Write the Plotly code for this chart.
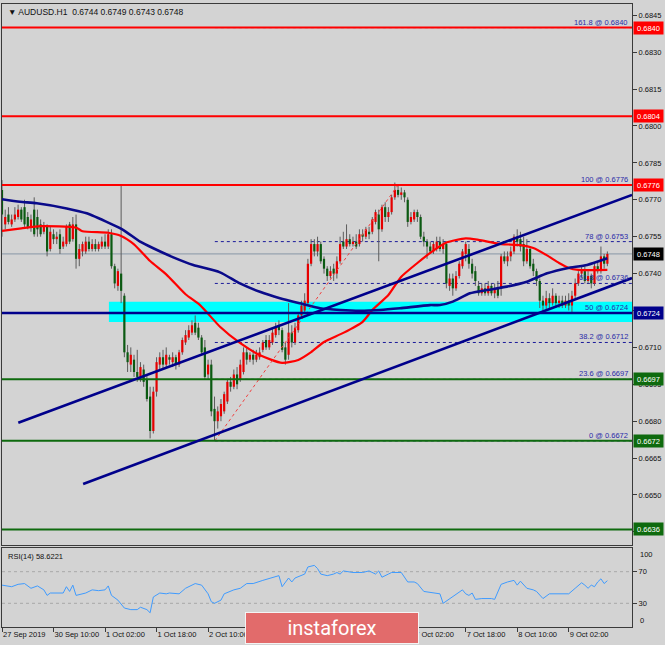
import plotly.graph_objects as go

# ---------------- data ----------------
opens = [
    .6774, .6760, .6764, .6760, .6762, .6763, .6766, .6767, .6763, .6759,
    .6766, .6763, .6760, .6757, .6759, .6750, .6756, .6754, .6756, .6751,
    .6752, .6760, .6754, .6760, .6746, .6749, .6749, .6753, .6750, .6752,
    .6750, .6751, .6753, .6751, .6756, .6743, .6735, .6740, .6731, .6708,
    .6703, .6705, .6700, .6698, .6701, .6697, .6690, .6676, .6692, .6703,
    .6706, .6703, .6706, .6704, .6706, .6703, .6708, .6712, .6714, .6716,
    .6720, .6718, .6714, .6710, .6699, .6703, .6685, .6680, .6682, .6684,
    .6688, .6696, .6694, .6699, .6697, .6700, .6708, .6705, .6707, .6705,
    .6706, .6709, .6713, .6710, .6712, .6715, .6719, .6717, .6710, .6707,
    .6716, .6712, .6717, .6723, .6725, .6728, .6744, .6752, .6749, .6752,
    .6746, .6742, .6739, .6742, .6740, .6745, .6753, .6751, .6754, .6752,
    .6753, .6752, .6756, .6755, .6757, .6757, .6761, .6764, .6758, .6767,
    .6763, .6765, .6771, .6774, .6772, .6773, .6770, .6761, .6762, .6765,
    .6763, .6755, .6753, .6751, .6749, .6750, .6753, .6750, .6752, .6735,
    .6738, .6734, .6739, .6743, .6748, .6750, .6744, .6741, .6735, .6732,
    .6734, .6732, .6735, .6732, .6734, .6734, .6747, .6745, .6747, .6749,
    .6755, .6754, .6752, .6745, .6750, .6744, .6741, .6737, .6729, .6727,
    .6730, .6728, .6731, .6728, .6729, .6727, .6729, .6727, .6731, .6736,
    .6740, .6741, .6737, .6739, .6736, .6743, .6741, .6747, .6744,
]
highs = [
    .6778, .6766, .6767, .6764, .6767, .6768, .6767, .6770, .6765, .6764,
    .6771, .6766, .6762, .6761, .6760, .6759, .6758, .6757, .6758, .6755,
    .6760, .6761, .6763, .6764, .6752, .6753, .6755, .6755, .6754, .6754,
    .6753, .6755, .6756, .6758, .6758, .6744, .6742, .6776, .6732, .6711,
    .6710, .6707, .6709, .6704, .6703, .6699, .6694, .6694, .6706, .6708,
    .6709, .6710, .6707, .6708, .6707, .6709, .6714, .6717, .6719, .6721,
    .6723, .6720, .6715, .6713, .6705, .6705, .6690, .6686, .6689, .6692,
    .6697, .6698, .6701, .6702, .6705, .6710, .6710, .6708, .6709, .6709,
    .6710, .6713, .6715, .6715, .6718, .6720, .6721, .6718, .6712, .6728,
    .6719, .6720, .6724, .6729, .6732, .6746, .6754, .6754, .6755, .6753,
    .6747, .6743, .6743, .6744, .6747, .6755, .6757, .6760, .6756, .6755,
    .6756, .6758, .6758, .6759, .6759, .6763, .6766, .6766, .6768, .6769,
    .6767, .6772, .6777, .6776, .6775, .6774, .6771, .6765, .6766, .6766,
    .6764, .6757, .6754, .6753, .6753, .6755, .6755, .6754, .6753, .6740,
    .6740, .6741, .6745, .6750, .6753, .6752, .6746, .6743, .6737, .6736,
    .6736, .6737, .6736, .6736, .6737, .6748, .6749, .6749, .6751, .6756,
    .6758, .6757, .6755, .6754, .6751, .6746, .6742, .6738, .6731, .6733,
    .6732, .6734, .6732, .6731, .6731, .6731, .6732, .6733, .6738, .6741,
    .6743, .6743, .6741, .6740, .6744, .6745, .6751, .6748, .6749,
]
lows = [
    .6755, .6758, .6760, .6759, .6761, .6762, .6761, .6759, .6758, .6757,
    .6755, .6755, .6755, .6756, .6747, .6749, .6752, .6752, .6748, .6750,
    .6751, .6752, .6753, .6742, .6743, .6747, .6748, .6749, .6749, .6749,
    .6749, .6750, .6750, .6750, .6742, .6734, .6733, .6728, .6706, .6700,
    .6700, .6698, .6696, .6696, .6694, .6688, .6673, .6675, .6690, .6701,
    .6701, .6702, .6703, .6702, .6701, .6702, .6707, .6711, .6713, .6715,
    .6715, .6713, .6707, .6697, .6697, .6682, .6672, .6677, .6680, .6683,
    .6687, .6692, .6693, .6693, .6696, .6699, .6703, .6704, .6703, .6704,
    .6705, .6708, .6709, .6709, .6711, .6714, .6715, .6708, .6703, .6705,
    .6710, .6711, .6716, .6722, .6724, .6727, .6743, .6747, .6747, .6744,
    .6740, .6737, .6738, .6737, .6738, .6744, .6750, .6750, .6751, .6751,
    .6750, .6751, .6753, .6754, .6754, .6756, .6760, .6745, .6757, .6761,
    .6761, .6764, .6770, .6771, .6770, .6769, .6759, .6760, .6761, .6761,
    .6754, .6751, .6746, .6748, .6748, .6749, .6749, .6748, .6734, .6733,
    .6731, .6733, .6738, .6742, .6745, .6742, .6738, .6735, .6731, .6731,
    .6731, .6731, .6731, .6730, .6730, .6731, .6744, .6743, .6745, .6748,
    .6751, .6749, .6743, .6744, .6742, .6739, .6735, .6726, .6724, .6725,
    .6726, .6727, .6726, .6726, .6726, .6726, .6725, .6724, .6730, .6735,
    .6738, .6736, .6736, .6734, .6735, .6740, .6740, .6742, .6743,
]
closes = [
    .6764, .6763, .6761, .6762, .6764, .6766, .6762, .6760, .6759, .6762,
    .6756, .6758, .6756, .6759, .6749, .6757, .6754, .6755, .6750, .6753,
    .6759, .6753, .6760, .6746, .6750, .6752, .6753, .6750, .6752, .6750,
    .6752, .6753, .6751, .6756, .6743, .6736, .6741, .6733, .6708, .6704,
    .6707, .6700, .6698, .6702, .6696, .6689, .6676, .6692, .6704, .6706,
    .6703, .6707, .6705, .6706, .6703, .6708, .6713, .6715, .6717, .6719,
    .6716, .6714, .6708, .6698, .6703, .6684, .6680, .6684, .6687, .6691,
    .6696, .6694, .6699, .6695, .6703, .6708, .6705, .6707, .6705, .6707,
    .6708, .6712, .6710, .6713, .6716, .6718, .6717, .6709, .6705, .6716,
    .6712, .6718, .6723, .6727, .6729, .6744, .6752, .6749, .6752, .6745,
    .6742, .6739, .6741, .6740, .6745, .6752, .6751, .6754, .6752, .6753,
    .6751, .6756, .6755, .6758, .6756, .6762, .6765, .6758, .6767, .6763,
    .6765, .6771, .6774, .6772, .6773, .6771, .6761, .6763, .6765, .6763,
    .6755, .6753, .6751, .6749, .6752, .6753, .6750, .6752, .6736, .6738,
    .6734, .6739, .6744, .6749, .6752, .6744, .6740, .6737, .6732, .6734,
    .6732, .6735, .6732, .6734, .6731, .6747, .6745, .6747, .6749, .6755,
    .6753, .6751, .6745, .6750, .6743, .6741, .6737, .6729, .6727, .6730,
    .6728, .6731, .6728, .6729, .6727, .6729, .6727, .6731, .6736, .6740,
    .6741, .6737, .6739, .6736, .6743, .6741, .6747, .6744, .6748,
]

tick_bars = [0, 16, 32, 48, 64, 80, 96, 112, 128, 144, 160, 176]
tick_labels = ["27 Sep 2019", "30 Sep 10:00", "1 Oct 02:00", "1 Oct 18:00",
               "2 Oct 10:00", "3 Oct 02:00", "3 Oct 18:00", "4 Oct 10:00",
               "7 Oct 02:00", "7 Oct 18:00", "8 Oct 10:00", "9 Oct 02:00"]

price_ticks = [0.6845, 0.6830, 0.6815, 0.6800, 0.6785, 0.6770, 0.6755, 0.6740,
               0.6725, 0.6710, 0.6695, 0.6680, 0.6665, 0.6650, 0.6635]

red_ma_bars = [0, 6, 12, 23, 25, 33, 37, 41, 46, 51, 57, 61.5, 67.7, 73.9, 80,
               87, 92, 96, 100, 106, 112, 115, 120, 124, 129, 133, 138, 144,
               148, 155, 161, 165, 169, 173, 176, 179, 188]
red_ma_vals = [.67574, .67584, .67593, .67587, .67572, .67566, .67553, .67519,
               .67451, .67397, .67316, .67272, .67184, .67118, .67069, .67037,
               .67049, .67081, .67122, .67159, .67204, .67252, .67313, .67387,
               .67443, .67484, .67526, .67543, .67537, .67520, .67516, .67504,
               .67476, .67443, .67423, .67415, .67415]

blue_ma_bars = [0, 5.6, 10.8, 20.1, 26.3, 33.5, 37.7, 42.9, 47, 53.2, 59.4,
                67.7, 73.9, 80.1, 86.3, 92.5, 98.8, 105, 111.2, 117.4, 123.6,
                132.9, 136, 140, 145.3, 150.6, 156.8, 163, 169.3, 175.5,
                181.7, 188]
blue_ma_vals = [.67702, .67692, .67686, .67665, .67645, .67604, .67577, .67530,
                .67503, .67466, .67435, .67405, .67360, .67326, .67300, .67279,
                .67259, .67252, .67249, .67252, .67259, .67272, .67272, .67286,
                .67320, .67333, .67347, .67367, .67401, .67422, .67435, .67462]

rsi_bars = [0, 3, 5, 7, 9, 11, 13, 14, 15, 17, 19, 20, 21, 22, 23, 26, 28, 30,
            32, 33, 34, 36, 38, 40, 42, 43, 45, 46, 47, 49, 51, 52, 55, 57, 60,
            62, 64, 65, 66, 68, 69, 72, 74, 76, 78, 81, 84, 86, 87, 88, 89, 90,
            91, 94, 95, 97, 98, 99, 101, 103, 104, 105, 106, 109, 111, 112, 114,
            116, 117, 118, 120, 121, 124, 126, 128, 129, 131, 134, 136, 137, 139,
            141, 143, 144, 145, 146, 147, 149, 152, 153, 155, 157, 159, 160, 161,
            163, 165, 166, 168, 170, 172, 173, 176, 178, 180, 181, 182, 183, 184,
            185, 186, 187, 188]
rsi_vals = [53, 51, 54, 55, 49, 52, 47, 40, 43, 43, 43, 51, 45, 53, 40, 43, 47, 46,
            47, 52, 40, 34, 24, 22, 22, 25, 22, 18, 38, 43, 42, 43, 42, 49, 55,
            53, 42, 32, 30, 34, 42, 47, 49, 55, 55, 59, 63, 65, 51, 57, 62, 57,
            62, 67, 76, 78, 74, 67, 65, 67, 69, 67, 71, 69, 69, 69, 71,
            67, 71, 63, 67, 69, 69, 57, 57, 55, 45, 43, 42, 30, 36,
            42, 47, 42, 40, 43, 35, 36, 36, 35, 54, 57, 59, 53, 58,
            49, 47, 45, 36, 42, 42, 42, 42, 49, 56, 53, 49, 53, 51,
            57, 61, 55, 58.6221]

red_levels = [0.6840, 0.6804, 0.6776]
green_levels = [0.6697, 0.6672, 0.6636]
support_level = 0.6724
last_price = 0.6748
fib_names = ["161.8", "100", "78", "61.8", "50", "38.2", "23.6", "0"]
fib_prices = [0.6840, 0.6776, 0.6753, 0.6736, 0.6724, 0.6712, 0.6697, 0.6672]
fib_start_bar = 66.1
fib_diag_bars = [66.1, 123.0]
fib_diag_prices = [0.6672, 0.6776]
zone_start_bar = 33.2
zone_prices = [0.67203, 0.67286]
upper_line_bars = [5.06, 195.65]
upper_line_prices = [0.66794, 0.67720]
lower_line_bars = [25.2, 195.65]
lower_line_prices = [0.66545, 0.67382]

# ---------------- styling ----------------
BG = "#d3d3d3"
FONT = "Liberation Sans"
NAVY = "#00008b"
AX = "#3a3a3a"
X_RANGE = [0, 195.65]

fig = go.Figure()

# wicks
wx, wy = [], []
for i in range(len(opens)):
    lo = min(lows[i], opens[i], closes[i])
    hi = max(highs[i], opens[i], closes[i])
    wx += [i, i, None]
    wy += [lo, hi, None]
fig.add_trace(go.Scatter(x=wx, y=wy, mode="lines", line=dict(color="#5c5c5c", width=1),
                         hoverinfo="skip", showlegend=False, xaxis="x", yaxis="y"))
# bodies
ux, uy, dx, dy = [], [], [], []
for i in range(len(opens)):
    o, c = opens[i], closes[i]
    if c >= o:
        ux += [i, i, None]
        uy += [o, c if c != o else o + 0.00003, None]
    else:
        dx += [i, i, None]
        dy += [o, c, None]
fig.add_trace(go.Scatter(x=ux, y=uy, mode="lines", line=dict(color="#e60000", width=2.2),
                         hoverinfo="skip", showlegend=False, xaxis="x", yaxis="y"))
fig.add_trace(go.Scatter(x=dx, y=dy, mode="lines", line=dict(color="#0b5a12", width=2.2),
                         hoverinfo="skip", showlegend=False, xaxis="x", yaxis="y"))

# moving averages
fig.add_trace(go.Scatter(x=red_ma_bars, y=red_ma_vals, mode="lines",
                         line=dict(color="#ff0000", width=2.2, shape="spline", smoothing=0.6),
                         showlegend=False, xaxis="x", yaxis="y"))
fig.add_trace(go.Scatter(x=blue_ma_bars, y=blue_ma_vals, mode="lines",
                         line=dict(color="#0a0a8a", width=2.6, shape="spline", smoothing=0.6),
                         showlegend=False, xaxis="x", yaxis="y"))

# RSI
fig.add_trace(go.Scatter(x=rsi_bars, y=rsi_vals, mode="lines",
                         line=dict(color="#3f9bff", width=1),
                         showlegend=False, xaxis="x2", yaxis="y2"))

shapes = []
shapes.append(dict(type="rect", xref="x", yref="y", x0=zone_start_bar, x1=X_RANGE[1],
                   y0=zone_prices[0], y1=zone_prices[1], fillcolor="#00ffff",
                   line=dict(width=0), layer="below"))
shapes.append(dict(type="line", xref="x domain", yref="y", x0=0, x1=1, y0=last_price, y1=last_price,
                   line=dict(color="#8796a6", width=1), layer="below"))
for p in fib_prices:
    shapes.append(dict(type="line", xref="x", yref="y", x0=fib_start_bar, x1=X_RANGE[1], y0=p, y1=p,
                       line=dict(color="#1a1a9a", width=1, dash="3px,3px"), layer="below"))
shapes.append(dict(type="line", xref="x", yref="y", x0=fib_diag_bars[0], x1=fib_diag_bars[1],
                   y0=fib_diag_prices[0], y1=fib_diag_prices[1],
                   line=dict(color="#f04040", width=1, dash="dot"), layer="above"))
for p in red_levels:
    shapes.append(dict(type="line", xref="x domain", yref="y", x0=0, x1=1, y0=p, y1=p,
                       line=dict(color="#ff0000", width=2), layer="above"))
for p in green_levels:
    shapes.append(dict(type="line", xref="x domain", yref="y", x0=0, x1=1, y0=p, y1=p,
                       line=dict(color="#0e6a0e", width=2), layer="above"))
shapes.append(dict(type="line", xref="x domain", yref="y", x0=0, x1=1, y0=support_level, y1=support_level,
                   line=dict(color=NAVY, width=2.4), layer="above"))
shapes.append(dict(type="line", xref="x", yref="y", x0=upper_line_bars[0], x1=upper_line_bars[1],
                   y0=upper_line_prices[0], y1=upper_line_prices[1],
                   line=dict(color=NAVY, width=2.6), layer="above"))
shapes.append(dict(type="line", xref="x", yref="y", x0=lower_line_bars[0], x1=lower_line_bars[1],
                   y0=lower_line_prices[0], y1=lower_line_prices[1],
                   line=dict(color=NAVY, width=2.6), layer="above"))
for v in (70, 30):
    shapes.append(dict(type="line", xref="x2 domain", yref="y2", x0=0, x1=1, y0=v, y1=v,
                       line=dict(color="#a8a8a8", width=1, dash="3px,3px"), layer="below"))

ann = []
ann.append(dict(xref="paper", yref="paper", x=0, y=1, xanchor="left", yanchor="top",
                xshift=4, yshift=-1, showarrow=False,
                text="\u25BC AUDUSD.H1  0.6744 0.6749 0.6743 0.6748",
                font=dict(family=FONT, size=8.5, color="#111111")))
ann.append(dict(xref="paper", yref="y2 domain", x=0, y=1, xanchor="left", yanchor="top",
                xshift=4, yshift=-2, showarrow=False, text="RSI(14) 58.6221",
                font=dict(family=FONT, size=7.5, color="#111111")))
for t, yv, anc in (("100", 100, "top"), ("0", 0, "bottom")):
    ann.append(dict(xref="paper", yref="y2", x=1, y=yv, xanchor="left", yanchor=anc,
                    xshift=6, showarrow=False, text=t,
                    font=dict(family=FONT, size=7.5, color="#111111")))
for name, p in zip(fib_names, fib_prices):
    ann.append(dict(xref="x", yref="y", x=X_RANGE[1] - 0.6, y=p, xanchor="right", yanchor="bottom",
                    yshift=-1, showarrow=False, text=f"{name} @ {p:.4f}",
                    font=dict(family=FONT, size=7.5, color="#2a2aa8")))
boxes = [(p, "#ff0000") for p in red_levels] + [(last_price, "#000000"), (support_level, NAVY)] + \
        [(p, "#0e6a0e") for p in green_levels]
for p, col in boxes:
    ann.append(dict(xref="paper", yref="y", x=1, y=p, xanchor="left", yanchor="middle",
                    xshift=1, showarrow=False, text=f"{p:.4f}", bgcolor=col,
                    width=27, height=10, borderpad=1,
                    font=dict(family=FONT, size=7.5, color="#ffffff")))
ann.append(dict(xref="paper", yref="paper", x=0.5246, y=-0.0024, xanchor="center", yanchor="middle",
                showarrow=False, text="instaforex", width=172, height=30, borderpad=0,
                bgcolor="#e26b6b", bordercolor="#f4f4f4", borderwidth=1,
                font=dict(family="Roboto", size=20, color="#ffffff")))

common_axis = dict(showgrid=False, zeroline=False, showline=True, mirror=True,
                   linecolor=AX, linewidth=1, automargin=False, tickangle=0)

fig.update_layout(
    width=665, height=645,
    margin=dict(l=2, r=33, t=4, b=18, autoexpand=False),
    paper_bgcolor=BG, plot_bgcolor=BG,
    showlegend=False,
    shapes=shapes, annotations=ann,
    font=dict(family=FONT, size=7.5, color="#111111"),
    xaxis=dict(domain=[0, 1], range=X_RANGE, anchor="y", showticklabels=False, ticks="",
               **common_axis),
    yaxis=dict(domain=[0.13162, 1], range=[0.662967, 0.684959], side="right", anchor="x",
               tickvals=price_ticks, ticktext=[f"{v:.4f}" for v in price_ticks],
               ticks="outside", ticklen=4, tickcolor=AX,
               tickfont=dict(family=FONT, size=7.5, color="#111111"), **common_axis),
    xaxis2=dict(domain=[0, 1], range=X_RANGE, anchor="y2", matches="x",
                tickvals=tick_bars, ticktext=tick_labels, ticks="outside", ticklen=4,
                tickcolor=AX, ticklabelposition="outside right",
                tickfont=dict(family=FONT, size=7.5, color="#111111"), **common_axis),
    yaxis2=dict(domain=[0, 0.12681], range=[0, 100], side="right", anchor="x2",
                tickvals=[30, 70], ticktext=["30", "70"], ticks="outside", ticklen=4, tickcolor=AX,
                tickfont=dict(family=FONT, size=7.5, color="#111111"), **common_axis),
)

fig.write_html("out.html",
               config={"displayModeBar": False},
               post_script="document.body.style.margin='0';document.body.style.overflow='hidden';")
